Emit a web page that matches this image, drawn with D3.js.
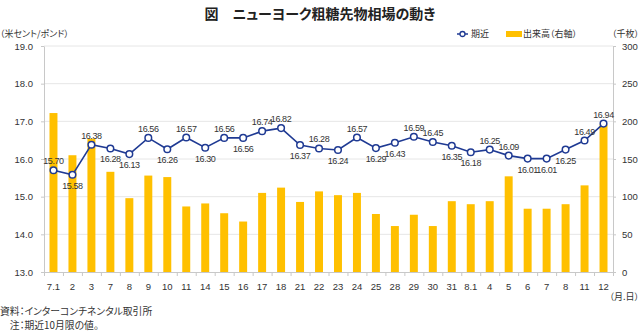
<!DOCTYPE html>
<html><head><meta charset="utf-8">
<script src="https://cdn.jsdelivr.net/npm/d3@7"></script>
<style>
body{margin:0;background:#fff}
svg text{font-family:"Liberation Sans",Arial,sans-serif}
svg text.jp{font-family:"Noto Sans CJK JP",sans-serif;font-feature-settings:"palt"}
</style></head><body><svg id="c" width="640" height="332"></svg>
<script>
const dates = ["7.1","2","3","7","8","9","10","11","14","15","16","17","18","21","22","23","24","25","28","29","30","31","8.1","4","5","6","7","8","11","12"];
const price = [15.70,15.58,16.38,16.28,16.13,16.56,16.26,16.57,16.30,16.56,16.56,16.74,16.82,16.37,16.28,16.24,16.57,16.29,16.43,16.59,16.45,16.35,16.18,16.25,16.09,16.01,16.01,16.25,16.49,16.94];
const volume = [211,155,177,133,98,128,126,87,91,78,67,105,112,93,107,102,105,77,61,76,61,94,90,94,127,84,84,90,115,196];
const labelSide = ["a","b","a","b","b","a","b","a","b","a","b","a","a","b","a","b","a","b","b","a","a","b","b","a","a","b","b","b","a","a"];
const priceTicks = [13,14,15,16,17,18,19];
const volumeTicks = [0,50,100,150,200,250,300];
const seriesNames = ["期近","出来高（右軸）"];

const svg = d3.select("#c");
const L = 44, R = 613, T = 46, B = 272;
const idx = d3.range(dates.length);
const x = d3.scaleBand().domain(idx).range([L, R]).paddingInner(0.58).paddingOuter(0.29);
const xb = d3.scaleLinear().domain([0, dates.length]).range([L, R]);
const y = d3.scaleLinear().domain([13, 19]).range([B, T]);
const y2 = d3.scaleLinear().domain([0, 300]).range([B, T]);
const navy = "#1f3a93", gold = "#ffc000", axisCol = "#c8c8c8", txt = "#333";

// gridlines
svg.append("g").selectAll("line").data(priceTicks.slice(1)).join("line")
  .attr("x1", L).attr("x2", R).attr("y1", d => y(d)).attr("y2", d => y(d))
  .attr("stroke", "#e6e6e6").attr("stroke-width", 1);

// bars
svg.append("g").selectAll("rect").data(volume).join("rect")
  .attr("x", (d, i) => x(i)).attr("width", x.bandwidth())
  .attr("y", d => y2(d)).attr("height", d => y2(0) - y2(d))
  .attr("fill", gold);

// axes
const styleAxis = g => {
  g.select(".domain").attr("stroke", axisCol);
  g.selectAll(".tick line").attr("stroke", axisCol);
  g.selectAll(".tick text").attr("fill", txt).attr("font-size", 9.5);
};
svg.append("g").attr("transform", `translate(${L},0)`)
  .call(d3.axisLeft(y).tickValues(priceTicks).tickFormat(d3.format(".1f")).tickSize(3).tickPadding(8).tickSizeOuter(0))
  .call(styleAxis);
svg.append("g").attr("transform", `translate(${R},0)`)
  .call(d3.axisRight(y2).tickValues(volumeTicks).tickSize(3).tickPadding(6).tickSizeOuter(0))
  .call(styleAxis);
svg.append("g").attr("transform", `translate(0,${B})`)
  .call(d3.axisBottom(xb).tickValues(d3.range(dates.length + 1)).tickFormat("").tickSize(4).tickSizeOuter(0))
  .call(styleAxis);
svg.append("g").attr("transform", `translate(0,${B})`)
  .call(d3.axisBottom(x).tickFormat(i => dates[i]).tickSize(0).tickPadding(11))
  .call(g => g.select(".domain").remove())
  .call(styleAxis);

// line
const line = d3.line().x((d, i) => x(i) + x.bandwidth() / 2).y(d => y(d));
svg.append("path").datum(price).attr("d", line)
  .attr("fill", "none").attr("stroke", navy).attr("stroke-width", 1.6);
svg.append("g").selectAll("circle").data(price).join("circle")
  .attr("cx", (d, i) => x(i) + x.bandwidth() / 2).attr("cy", d => y(d)).attr("r", 3.3)
  .attr("fill", "#fff").attr("stroke", navy).attr("stroke-width", 1.5);
svg.append("g").selectAll("text").data(price).join("text")
  .attr("x", (d, i) => x(i) + x.bandwidth() / 2)
  .attr("y", (d, i) => y(d) + (labelSide[i] === "a" ? -6 : 14))
  .attr("text-anchor", "middle").attr("font-size", 9).attr("letter-spacing", -0.4).attr("fill", txt)
  .text(d => d.toFixed(2));

// title and annotations
svg.append("text").attr("class", "jp").attr("x", 320).attr("y", 19).attr("text-anchor", "middle")
  .attr("font-size", 14).attr("font-weight", "bold").attr("fill", "#222")
  .text("図　ニューヨーク粗糖先物相場の動き");
const note = (t, xx, yy, anchor, fs) => svg.append("text").attr("class", "jp").attr("x", xx).attr("y", yy)
  .attr("text-anchor", anchor || "start").attr("font-size", fs || 9).attr("fill", txt).text(t);
note("（米セント/ポンド）", 0, 37);
note("（千枚）", 639, 37, "end");
note("（月.日）", 639, 300, "end");
note("資料：インターコンチネンタル取引所", 0, 315, "start", 9.8);
note("　注：期近10月限の値。", 0, 329, "start", 9.8);

// legend
const lg = svg.append("g");
lg.append("line").attr("x1", 457).attr("x2", 468).attr("y1", 34).attr("y2", 34).attr("stroke", navy).attr("stroke-width", 1.5);
lg.append("circle").attr("cx", 462.5).attr("cy", 34).attr("r", 2.5).attr("fill", "#fff").attr("stroke", navy).attr("stroke-width", 1.3);
note(seriesNames[0], 471, 37);
lg.append("rect").attr("x", 506).attr("y", 31).attr("width", 16).attr("height", 6).attr("fill", gold);
note(seriesNames[1], 523, 37);
</script></body></html>
